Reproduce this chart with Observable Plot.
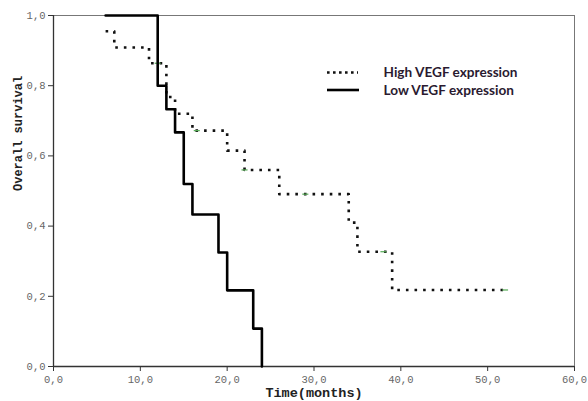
<!DOCTYPE html>
<html><head><meta charset="utf-8">
<script src="https://cdn.jsdelivr.net/npm/d3@7"></script>
<script src="https://cdn.jsdelivr.net/npm/@observablehq/plot@0.6"></script>
<style>
body{margin:0;background:#fff}
#chart{position:relative;width:588px;height:401px}
</style>
</head><body><div id="chart"></div>
<script>
// Tick values
const xTicks = [0, 10, 20, 30, 40, 50, 60];
const yTicks = [0, 0.2, 0.4, 0.6, 0.8, 1.0];

// Low VEGF expression (solid)
const lowTime = [6, 12, 13, 14, 15, 16, 19, 20, 23, 24];
const lowSurv = [1.0, 0.8, 0.733, 0.667, 0.52, 0.433, 0.325, 0.217, 0.108, 0];

// High VEGF expression (dotted)
const highTime = [6, 7, 11, 13, 14, 16, 20, 22, 26, 34, 35, 39, 52];
const highSurv = [0.955, 0.909, 0.864, 0.768, 0.72, 0.672, 0.615, 0.56, 0.491, 0.41, 0.327, 0.218, 0.218];

// Censored observations (High VEGF)
const censorTime = [12, 16.5, 22, 29, 38, 52];
const censorSurv = [0.864, 0.672, 0.56, 0.491, 0.327, 0.218];

const seriesNames = ["High VEGF expression", "Low VEGF expression"];

const low = lowTime.map((t, i) => ({t, s: lowSurv[i]}));
const high = highTime.map((t, i) => ({t, s: highSurv[i]}));
const censor = censorTime.map((t, i) => ({t, s: censorSurv[i]}));

const fmt = d => d3.format(".1f")(d).replace(".", ",");
const mono = "'Liberation Mono', 'DejaVu Sans Mono', monospace";

const chart = Plot.plot({
  width: 588,
  height: 401,
  marginLeft: 53,
  marginRight: 14,
  marginTop: 15,
  marginBottom: 35,
  style: {background: "#fff"},
  x: {domain: [0, 60]},
  y: {domain: [0, 1]},
  marks: [
    Plot.frame({stroke: "#777", strokeWidth: 1}),
    Plot.axisX({ticks: xTicks, tickFormat: fmt, tickSize: 5, tickPadding: 4, label: null,
      fontFamily: mono, fontSize: 10.5, fill: "#666", stroke: "#333"}),
    Plot.axisY({ticks: yTicks, tickFormat: fmt, tickSize: 5, tickPadding: 3, label: null,
      fontFamily: mono, fontSize: 10.5, fill: "#666", stroke: "#333"}),
    Plot.ruleX([0], {stroke: "#333", strokeWidth: 1.3}),
    Plot.ruleY([0], {stroke: "#333", strokeWidth: 1.3}),
    Plot.line(high, {x: "t", y: "s", curve: "step-after", stroke: "#111", strokeWidth: 2.6,
      strokeDasharray: "2.6,6", strokeLinecap: "butt"}),
    Plot.link(censor, {x1: d => d.t - 0.35, x2: d => d.t + 0.35, y1: "s", y2: "s",
      stroke: "#5a5", strokeWidth: 1.2}),
    Plot.line(low, {x: "t", y: "s", curve: "step-after", stroke: "#000", strokeWidth: 2.6}),
    Plot.text(["Time(months)"], {frameAnchor: "bottom", dy: 26, lineAnchor: "middle",
      fontFamily: mono, fontWeight: "bold", fontSize: 13.5, fill: "#222"}),
    Plot.text(["Overall survival"], {frameAnchor: "left", dx: -35, rotate: -90, lineAnchor: "middle",
      fontFamily: mono, fontWeight: "bold", fontSize: 12, fill: "#222"}),
    Plot.text([seriesNames[0]], {frameAnchor: "top-left", dx: 330, dy: 57, textAnchor: "start",
      lineAnchor: "middle", fontFamily: "Lato, 'Open Sans', sans-serif", fontWeight: "bold",
      fontSize: 13.6, fill: "#2a1a30"}),
    Plot.text([seriesNames[1]], {frameAnchor: "top-left", dx: 330, dy: 75, textAnchor: "start",
      lineAnchor: "middle", fontFamily: "Lato, 'Open Sans', sans-serif", fontWeight: "bold",
      fontSize: 13.6, fill: "#2a1a30"})
  ]
});

// legend line samples
const svg = d3.select(chart);
svg.append("line").attr("x1", 327).attr("x2", 358).attr("y1", 72.5).attr("y2", 72.5)
  .attr("stroke", "#111").attr("stroke-width", 2.6).attr("stroke-dasharray", "2.6,3.4");
svg.append("line").attr("x1", 327).attr("x2", 359).attr("y1", 90).attr("y2", 90)
  .attr("stroke", "#000").attr("stroke-width", 2.6);

document.getElementById("chart").appendChild(chart);
</script>
</body></html>
